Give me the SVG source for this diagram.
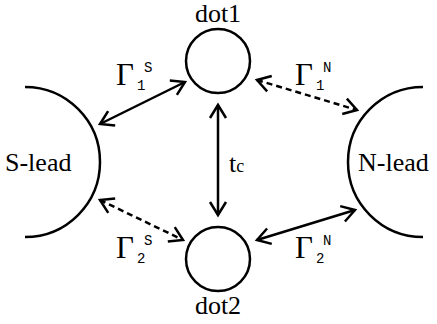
<svg xmlns="http://www.w3.org/2000/svg" width="437" height="324" viewBox="0 0 437 324">
<defs>
<marker id="ah" markerUnits="userSpaceOnUse" markerWidth="22" markerHeight="22" refX="15" refY="11" orient="auto-start-reverse" viewBox="0 0 22 22">
<path d="M2,3 L15,11 L2,19" fill="none" stroke="#000" stroke-width="2.5"/>
</marker>
</defs>
<style>
.shape{fill:none;stroke:#000;stroke-width:2.5}
.sol{fill:none;stroke:#000;stroke-width:2.5;marker-start:url(#ah);marker-end:url(#ah)}
.dsh{fill:none;stroke:#000;stroke-width:2.5;stroke-dasharray:6,4;marker-start:url(#ah);marker-end:url(#ah)}
.sf{font-family:"Times New Roman","Liberation Serif",Tinos,"DejaVu Serif",serif}
.mono{font-family:"Courier New","Liberation Mono","DejaVu Sans Mono",monospace}
</style>
<rect width="437" height="324" fill="#fff"/>
<g class="sf" font-size="26" fill="#000">
<g id="dot1">
<circle class="shape" cx="218" cy="61" r="32"/>
<text x="218" y="22" text-anchor="middle">dot1</text>
</g>
<g id="dot2">
<circle class="shape" cx="218" cy="259" r="32"/>
<text x="218" y="314" text-anchor="middle">dot2</text>
</g>
<g id="slead">
<path class="shape" d="M25,87 A75,75 0 0 1 25,237"/>
<text x="5" y="171">S-lead</text>
</g>
<g id="nlead">
<path class="shape" d="M423,87 A75,75 0 0 0 423,237"/>
<text x="358" y="171">N-lead</text>
</g>
</g>
<g id="connectors">
<line class="sol" x1="100" y1="124" x2="185" y2="82"/>
<line class="dsh" x1="257" y1="80" x2="357" y2="110"/>
<line class="sol" x1="218" y1="105" x2="218" y2="215"/>
<line class="dsh" x1="100" y1="200" x2="183" y2="240"/>
<line class="sol" x1="257" y1="240" x2="355" y2="210"/>
</g>
<g id="labels" fill="#000">
<text class="sf" font-size="26" x="229" y="172">t<tspan font-size="18">c</tspan></text>
<g class="sf" font-size="31">
<text x="116" y="85">Γ</text>
<text x="295" y="85">Γ</text>
<text x="116" y="258">Γ</text>
<text x="295" y="258">Γ</text>
</g>
<g class="mono" font-size="14">
<text x="144" y="72">S</text><text x="137" y="90">1</text>
<text x="323" y="72">N</text><text x="316" y="90">1</text>
<text x="144" y="245">S</text><text x="137" y="263">2</text>
<text x="323" y="245">N</text><text x="316" y="263">2</text>
</g>
</g>
</svg>
